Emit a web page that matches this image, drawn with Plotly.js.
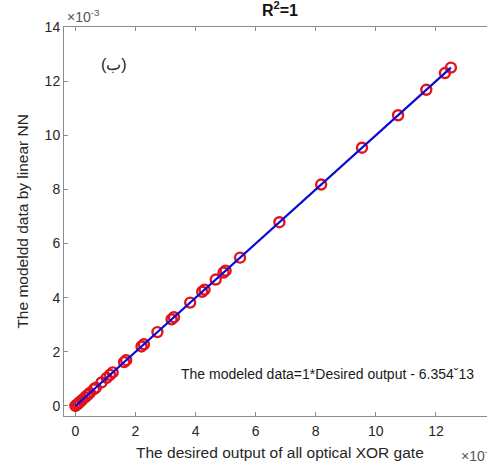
<!DOCTYPE html>
<html>
<head>
<meta charset="utf-8">
<script src="https://cdn.plot.ly/plotly-3.0.1.min.js"></script>
<style>
html,body{margin:0;padding:0;overflow:hidden;background:#fff;}
#chart{width:500px;height:461px;}
</style>
</head>
<body>
<div id="chart"></div>
<script>
// values in units of 1e-3
var desiredOutput = [0, 0.05, 0.1, 0.15, 0.22, 0.32, 0.4, 0.48, 0.62, 0.68, 0.87, 1.04, 1.15, 1.24, 1.62, 1.69, 2.2, 2.28, 2.73, 3.2, 3.28, 3.82, 4.22, 4.3, 4.67, 4.93, 5.0, 5.48, 6.79, 8.18, 9.54, 10.74, 11.68, 12.3, 12.5];
var modeledData   = [0, 0.05, 0.1, 0.15, 0.22, 0.32, 0.4, 0.48, 0.62, 0.68, 0.87, 1.04, 1.15, 1.24, 1.62, 1.69, 2.2, 2.28, 2.73, 3.2, 3.28, 3.82, 4.22, 4.3, 4.67, 4.93, 5.0, 5.48, 6.79, 8.18, 9.54, 10.74, 11.68, 12.3, 12.5];
var fitX = [0, 12.5];
var fitY = [0, 12.5];
var xTicks = [0, 2, 4, 6, 8, 10, 12, 14];
var yTicks = [0, 2, 4, 6, 8, 10, 12, 14];

var font = 'Liberation Sans, Arial, sans-serif';
var txt = '#262626';
var axCol = '#8c8c8c';

var traces = [
  {x: desiredOutput, y: modeledData, mode: 'markers', type: 'scatter',
   marker: {symbol: 'circle-open', size: 10, color: '#e0141e', line: {width: 2.4, color: '#e0141e'}},
   showlegend: false, hoverinfo: 'skip'},
  {x: fitX, y: fitY, mode: 'lines', type: 'scatter',
   line: {color: '#0a0ad2', width: 2.2}, showlegend: false, hoverinfo: 'skip'}
];

var layout = {
  width: 500, height: 461,
  margin: {l: 64, r: 4, t: 27, b: 45},
  paper_bgcolor: '#fff', plot_bgcolor: '#fff',
  font: {family: font, color: txt, size: 14},
  title: {text: '<b>R<sup>2</sup>=1</b>', x: 0.5, xref: 'paper', xanchor: 'center', y: 0.99, yanchor: 'top',
          font: {family: font, size: 16, color: '#111'}},
  xaxis: {range: [-0.38, 14], tickvals: xTicks, ticktext: xTicks.map(String),
          ticks: 'inside', ticklen: 4, tickcolor: axCol, showline: true, linecolor: axCol, linewidth: 1,
          mirror: 'ticks', showgrid: false, zeroline: false, ticklabelstandoff: 2,
          tickfont: {size: 14, color: txt}, automargin: false},
  yaxis: {range: [-0.37, 14], tickvals: yTicks, ticktext: yTicks.map(String),
          ticks: 'inside', ticklen: 4, tickcolor: axCol, showline: true, linecolor: axCol, linewidth: 1,
          mirror: 'ticks', showgrid: false, zeroline: false,
          tickfont: {size: 14, color: txt}, automargin: false},
  annotations: [
    {text: 'The desired output of all optical XOR gate', xref: 'paper', yref: 'paper', x: 0.5, y: -0.095,
     xanchor: 'center', yanchor: 'middle', showarrow: false, font: {size: 15.5, color: txt}},
    {text: 'The modeldd data by linear NN', xref: 'paper', yref: 'paper', x: -0.097, y: 0.5, textangle: -90,
     xanchor: 'center', yanchor: 'middle', showarrow: false, font: {size: 15.5, color: txt}},
    {text: '×10<sup>-3</sup>', xref: 'paper', yref: 'paper', x: 0.003, y: 1.0, xanchor: 'left', yanchor: 'bottom',
     showarrow: false, font: {size: 14, color: '#555'}},
    {text: '×10<sup>-3</sup>', xref: 'paper', yref: 'paper', x: 0.915, y: -0.1, xanchor: 'left', yanchor: 'middle',
     showarrow: false, font: {size: 14, color: '#555'}},
    {text: '(ب)', xref: 'x', yref: 'y', x: 1.28, y: 12.6, xanchor: 'center', yanchor: 'middle',
     showarrow: false, font: {size: 16, color: '#222'}},
    {text: 'The modeled data=1*Desired output - 6.354ˇ13', xref: 'x', yref: 'y', x: 3.45, y: 1.19,
     xanchor: 'left', yanchor: 'middle', showarrow: false, font: {size: 14, color: '#1a1a1a'}}
  ]
};

Plotly.newPlot('chart', traces, layout, {staticPlot: true, displayModeBar: false});
</script>
</body>
</html>
